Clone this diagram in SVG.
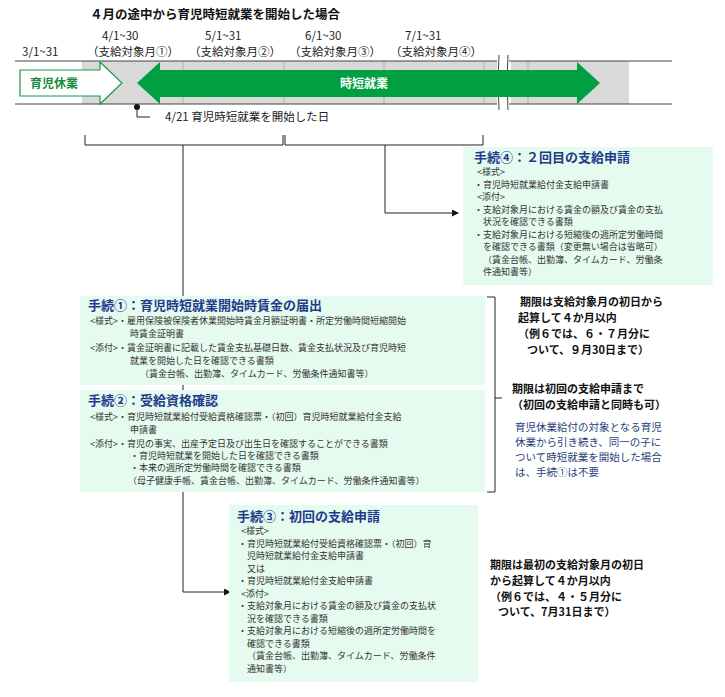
<svg xmlns="http://www.w3.org/2000/svg" width="725" height="697" viewBox="0 0 725 697">
<style>
text{font-family:"Noto Sans CJK JP","Liberation Sans",sans-serif;}
.d{font-size:11.5px;fill:#222}
.t{font-size:13px;font-weight:bold;fill:#1f3b8c}
.b{font-size:9px;fill:#333}
.k{font-size:11px;font-weight:bold;fill:#111}
.n{font-size:10.5px;fill:#2a3f7a}
.box{fill:#e6fbef}
.ln{stroke:#222;stroke-width:1;fill:none}
</style>
<defs><marker id="ar" markerWidth="7" markerHeight="7" refX="6" refY="3.5" orient="auto"><path d="M0,0L7,3.5L0,7z" fill="#111"/></marker></defs>
<rect width="725" height="697" fill="#fff"/>
<text x="90" y="19" style="font-size:12.5px;font-weight:bold;fill:#111">４月の途中から育児時短就業を開始した場合</text>
<g id="timeline">
<rect x="82" y="61" width="416" height="43" fill="#d9d9d9"/>
<rect x="511" y="61" width="118" height="43" fill="#d9d9d9"/>
<g stroke="#aaa" stroke-width="0.8"><line x1="183" y1="61" x2="183" y2="104"/><line x1="284" y1="61" x2="284" y2="104"/><line x1="384" y1="61" x2="384" y2="104"/><line x1="484" y1="61" x2="484" y2="104"/><line x1="528" y1="61" x2="528" y2="104"/></g>
<line x1="15" y1="61" x2="672" y2="61" stroke="#444"/>
<line x1="15" y1="104" x2="672" y2="104" stroke="#444"/>
<rect x="497" y="55" width="12" height="55" fill="#fff"/>
<path d="M499,55Q497,82 499,110M508,55Q506,82 508,110" stroke="#444" fill="none"/>
<text class="d" x="22" y="56">3/1~31</text>
<text class="d" x="102" y="40">4/1~30</text><text class="d" x="87" y="56">（支給対象月①）</text>
<text class="d" x="205" y="40">5/1~31</text><text class="d" x="189" y="56">（支給対象月②）</text>
<text class="d" x="305" y="40">6/1~30</text><text class="d" x="289" y="56">（支給対象月③）</text>
<text class="d" x="405" y="40">7/1~31</text><text class="d" x="390" y="56">（支給対象月④）</text>
<path d="M20,70H100V62L122,83L100,104V96H20Z" fill="#fff" stroke="#1a9a44" stroke-width="1.2"/>
<text x="30" y="88" style="font-size:12px;font-weight:bold;fill:#1a8a3e">育児休業</text>
<path d="M137,83L160,62V70H577V62L600,83L577,104V97H160V104Z" fill="#00a040"/>
<text x="340" y="88" style="font-size:12px;font-weight:bold;fill:#fff">時短就業</text>
<circle cx="137" cy="107" r="3" fill="#111"/>
<path class="ln" d="M137,107V117H150"/>
<text class="d" x="165" y="121">4/21 育児時短就業を開始した日</text>
</g>
<g id="connectors">
<path class="ln" d="M85,135V145H283V135M285,135V145H483V135"/>
<path class="ln" d="M385,145V213H458" marker-end="url(#ar)"/>
<path class="ln" d="M183,145V592H230" marker-end="url(#ar)"/>
<path class="ln" d="M487,297H495V492H487M495,398H502"/>
</g>
<g id="step4">
<rect class="box" x="463" y="147" width="250" height="138"/>
<text class="t" x="474" y="162">手続④：２回目の支給申請</text>
<text class="b"><tspan x="477" y="175">&lt;様式&gt;</tspan><tspan x="474" y="188">・育児時短就業給付金支給申請書</tspan><tspan x="477" y="200">&lt;添付&gt;</tspan><tspan x="474" y="213">・支給対象月における賃金の額及び賃金の支払</tspan><tspan x="483" y="225">状況を確認できる書類</tspan><tspan x="474" y="238">・支給対象月における短縮後の週所定労働時間</tspan><tspan x="483" y="250">を確認できる書類（変更無い場合は省略可）</tspan><tspan x="483" y="263">（賃金台帳、出勤簿、タイムカード、労働条</tspan><tspan x="483" y="275">件通知書等）</tspan></text>
</g>
<g id="step1">
<rect class="box" x="80" y="296" width="405" height="89"/>
<text class="t" x="88" y="310">手続①：育児時短就業開始時賃金の届出</text>
<text class="b"><tspan x="90" y="324">&lt;様式&gt;・雇用保険被保険者休業開始時賃金月額証明書・所定労働時間短縮開始</tspan><tspan x="130" y="337">時賃金証明書</tspan><tspan x="90" y="351">&lt;添付&gt;・賃金証明書に記載した賃金支払基礎日数、賃金支払状況及び育児時短</tspan><tspan x="130" y="364">就業を開始した日を確認できる書類</tspan><tspan x="140" y="377">（賃金台帳、出勤簿、タイムカード、労働条件通知書等）</tspan></text>
</g>
<g id="step2">
<rect class="box" x="80" y="390" width="405" height="102"/>
<text class="t" x="88" y="405">手続②：受給資格確認</text>
<text class="b"><tspan x="90" y="420">&lt;様式&gt;・育児時短就業給付受給資格確認票・（初回）育児時短就業給付金支給</tspan><tspan x="130" y="433">申請書</tspan><tspan x="90" y="447">&lt;添付&gt;・育児の事実、出産予定日及び出生日を確認することができる書類</tspan><tspan x="130" y="459">・育児時短就業を開始した日を確認できる書類</tspan><tspan x="130" y="471">・本来の週所定労働時間を確認できる書類</tspan><tspan x="128" y="484">（母子健康手帳、賃金台帳、出勤簿、タイムカード、労働条件通知書等）</tspan></text>
</g>
<g id="step3">
<rect class="box" x="229" y="505" width="249" height="177"/>
<text class="t" x="237" y="521">手続③：初回の支給申請</text>
<text class="b"><tspan x="241" y="534">&lt;様式&gt;</tspan><tspan x="238" y="547">・育児時短就業給付受給資格確認票・（初回）育</tspan><tspan x="247" y="559">児時短就業給付金支給申請書</tspan><tspan x="247" y="572">又は</tspan><tspan x="238" y="584">・育児時短就業給付金支給申請書</tspan><tspan x="241" y="597">&lt;添付&gt;</tspan><tspan x="238" y="609">・支給対象月における賃金の額及び賃金の支払状</tspan><tspan x="247" y="622">況を確認できる書類</tspan><tspan x="238" y="634">・支給対象月における短縮後の週所定労働時間を</tspan><tspan x="247" y="647">確認できる書類</tspan><tspan x="247" y="659">（賃金台帳、出勤簿、タイムカード、労働条件</tspan><tspan x="247" y="672">通知書等）</tspan></text>
</g>
<g id="notes">
<text class="k"><tspan x="520" y="306">期限は支給対象月の初日から</tspan><tspan x="518" y="322">起算して４か月以内</tspan><tspan x="518" y="338">（例６では、６・７月分に</tspan><tspan x="527" y="354">ついて、９月30日まで）</tspan></text>
<text class="k"><tspan x="512" y="393">期限は初回の支給申請まで</tspan><tspan x="512" y="409">（初回の支給申請と同時も可）</tspan></text>
<text class="n"><tspan x="515" y="431">育児休業給付の対象となる育児</tspan><tspan x="515" y="446">休業から引き続き、同一の子に</tspan><tspan x="515" y="461">ついて時短就業を開始した場合</tspan><tspan x="515" y="476">は、手続①は不要</tspan></text>
<text class="k"><tspan x="490" y="569">期限は最初の支給対象月の初日</tspan><tspan x="490" y="585">から起算して４か月以内</tspan><tspan x="490" y="601">（例６では、４・５月分に</tspan><tspan x="498" y="616">ついて、7月31日まで）</tspan></text>
</g>
</svg>
